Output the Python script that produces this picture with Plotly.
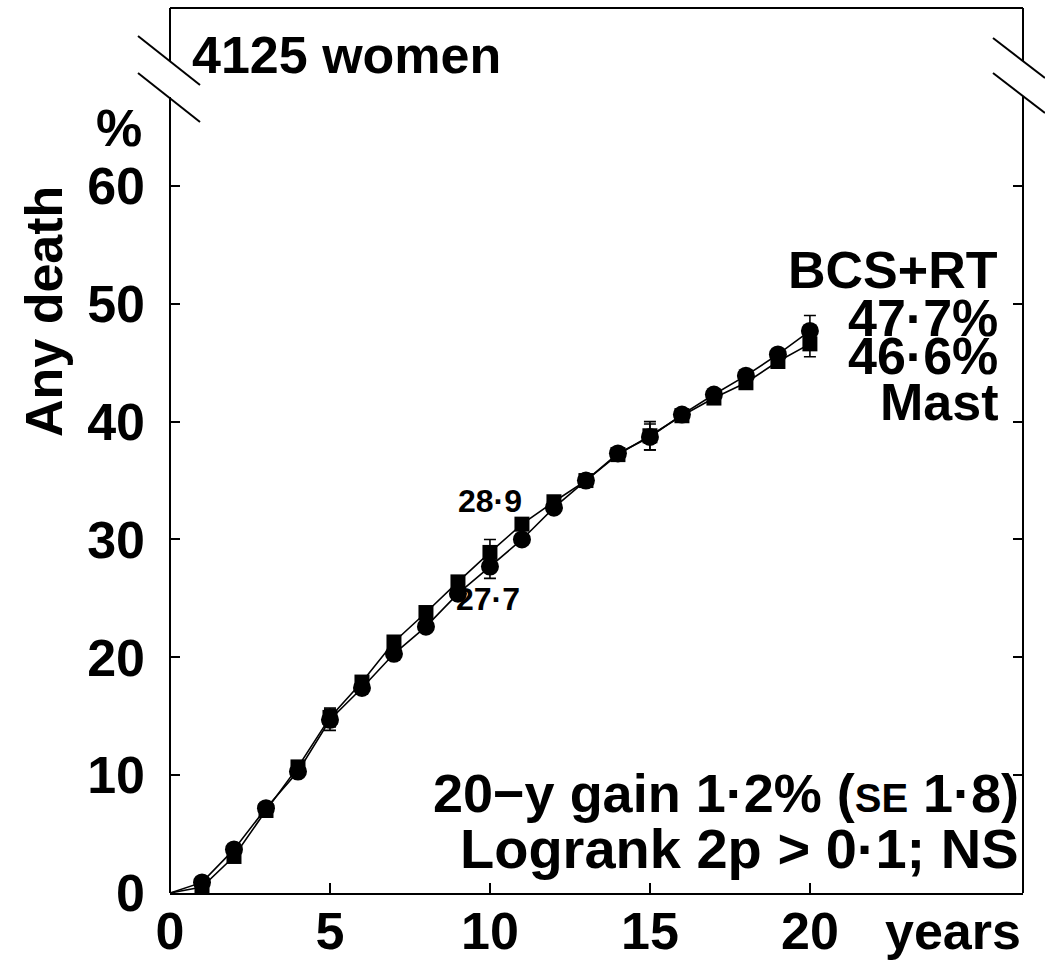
import plotly.graph_objects as go

years = list(range(0, 21))
bcs_rt = [0, 0.9, 3.7, 7.2, 10.3, 14.7, 17.4, 20.3, 22.6, 25.4, 27.7,
          30.0, 32.7, 35.0, 37.3, 38.7, 40.6, 42.3, 43.9, 45.7, 47.7]
mast = [0, 0.5, 3.1, 7.0, 10.7, 14.9, 17.9, 21.3, 23.8, 26.4, 28.9,
        31.3, 33.2, 35.0, 37.2, 38.8, 40.5, 42.0, 43.3, 45.1, 46.6]

err_years = [5, 10, 15, 20]
bcs_err_vals = [14.7, 27.7, 38.7, 47.7]
bcs_err = [0.9, 1.0, 1.1, 1.3]
mast_err_vals = [14.9, 28.9, 38.8, 46.6]
mast_err = [0.8, 1.1, 1.2, 1.1]

x_ticks = [0, 5, 10, 15, 20]
y_ticks = [0, 10, 20, 30, 40, 50, 60]

FONT = "Liberation Sans, Arial, sans-serif"
BIG = 52

fig = go.Figure()

# error bars
for ex, ev, ee in [(err_years, bcs_err_vals, bcs_err), (err_years, mast_err_vals, mast_err)]:
    fig.add_trace(go.Scatter(
        x=ex, y=ev, mode="markers",
        marker=dict(size=1, color="black", opacity=1),
        error_y=dict(type="data", array=ee, visible=True, color="black",
                     thickness=1.6, width=6),
        showlegend=False, hoverinfo="skip"))

msize_c = [0] + [18] * 20
msize_s = [0] + [15] * 20
fig.add_trace(go.Scatter(
    x=years, y=bcs_rt, mode="lines+markers",
    line=dict(color="black", width=1.6),
    marker=dict(symbol="circle", size=msize_c, color="black", opacity=1,
                line=dict(width=0)),
    showlegend=False, name="BCS+RT"))
fig.add_trace(go.Scatter(
    x=years, y=mast, mode="lines+markers",
    line=dict(color="black", width=1.6),
    marker=dict(symbol="square", size=msize_s, color="black", opacity=1,
                line=dict(width=0)),
    showlegend=False, name="Mast"))

# secondary y axis for right-side ticks
fig.add_trace(go.Scatter(x=[None], y=[None], yaxis="y2", showlegend=False))

X0, X1 = 0, 26.66
Y0, Y1 = 0, 75.1

tf = dict(family=FONT, size=BIG, color="black", weight="bold")
fig.update_layout(
    width=1045, height=960,
    margin=dict(l=170, r=22, t=8, b=67, autoexpand=False),
    plot_bgcolor="white", paper_bgcolor="white",
    font=dict(family=FONT, size=BIG, color="black", weight="bold"),
    xaxis=dict(range=[X0, X1], tickvals=x_ticks, ticks="inside", ticklen=10,
               tickwidth=1.6, tickcolor="black", showline=True, linecolor="black",
               linewidth=2, showgrid=False, zeroline=False, mirror=False,
               ticklabelstandoff=-8, automargin=False, tickfont=tf),
    yaxis=dict(range=[Y0, Y1], tickvals=y_ticks, ticks="inside", ticklen=10,
               tickwidth=1.6, tickcolor="black", showline=False, showgrid=False,
               zeroline=False, ticklabelstandoff=24, automargin=False, tickfont=tf),
    yaxis2=dict(range=[Y0, Y1], tickvals=y_ticks, ticks="inside", ticklen=10,
                tickwidth=1.6, tickcolor="black", overlaying="y", side="right",
                showticklabels=False, showline=False, showgrid=False,
                zeroline=False, automargin=False),
)

# frame with breaks (paper coordinates derived from pixel layout)
W, H = 853.0, 885.0
def px(xp):
    return (xp - 170) / W
def py(yp):
    return (893 - yp) / H

lw = 2
shapes = [
    dict(type="line", xref="paper", yref="paper", x0=0, x1=1, y0=1, y1=1),
    dict(type="line", xref="paper", yref="paper", x0=0, x1=0, y0=1, y1=py(61)),
    dict(type="line", xref="paper", yref="paper", x0=0, x1=0, y0=py(97), y1=0),
    dict(type="line", xref="paper", yref="paper", x0=1, x1=1, y0=1, y1=py(61)),
    dict(type="line", xref="paper", yref="paper", x0=1, x1=1, y0=py(96), y1=0),
    dict(type="line", xref="paper", yref="paper", x0=px(138), y0=py(36), x1=px(200), y1=py(85)),
    dict(type="line", xref="paper", yref="paper", x0=px(138), y0=py(73), x1=px(200), y1=py(122)),
    dict(type="line", xref="paper", yref="paper", x0=px(993), y0=py(38), x1=px(1045), y1=py(78)),
    dict(type="line", xref="paper", yref="paper", x0=px(993), y0=py(73), x1=px(1045), y1=py(113)),
]
for s in shapes:
    s["line"] = dict(color="black", width=lw)
fig.update_layout(shapes=shapes)

def ann(text, x, y, xanchor="center", size=BIG, angle=0, ref="x"):
    fig.add_annotation(text=text, x=x, y=y,
                       xref="paper" if ref == "paper" else "x",
                       yref="paper" if ref == "paper" else "y",
                       xanchor=xanchor, yanchor="middle", showarrow=False,
                       textangle=angle,
                       font=dict(family=FONT, size=size, color="black", weight="bold"))

ann("4125 women", 0.62, 71.1, xanchor="left")
ann("BCS+RT", 25.94, 52.9, xanchor="right")
ann("47·7%", 25.94, 48.8, xanchor="right")
ann("46·6%", 25.94, 45.6, xanchor="right")
ann("Mast", 25.94, 41.7, xanchor="right")
ann("28·9", 10.0, 33.3, size=32)
ann("27·7", 9.94, 24.95, size=32)
ann("20−y gain 1·2% (<span style='font-size:40px'>SE</span> 1·8)", 26.6, 8.5, xanchor="right", size=54)
ann("Logrank 2p > 0·1; NS", 26.6, 3.8, xanchor="right", size=56)
ann("%", px(119), py(128), ref="paper")
ann("Any death", px(44), py(312), angle=-90, ref="paper")
ann("years", px(953), py(931), ref="paper")

fig.write_html("out.html")
